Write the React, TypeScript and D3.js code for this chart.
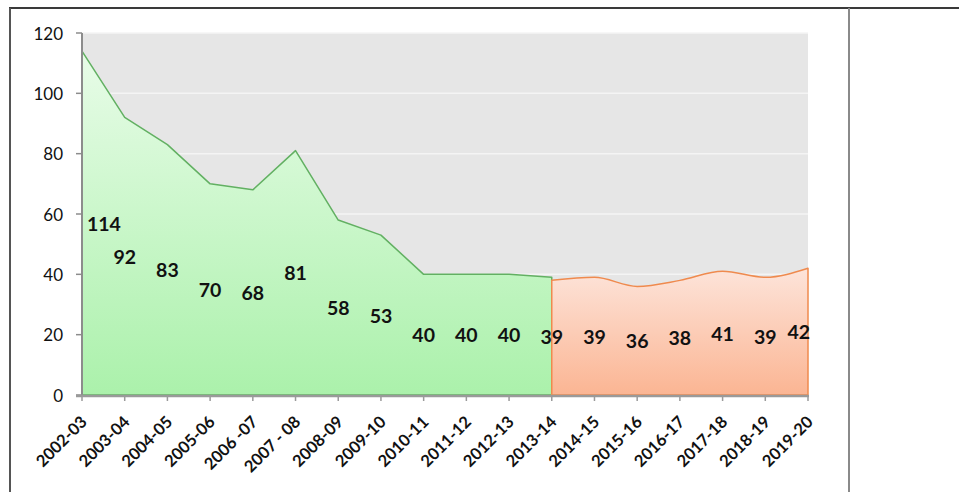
import React from "react";
import * as d3 from "d3";

const categories = [
  "2002-03", "2003-04", "2004-05", "2005-06", "2006 -07", "2007 - 08",
  "2008-09", "2009-10", "2010-11", "2011-12", "2012-13", "2013-14",
  "2014-15", "2015-16", "2016-17", "2017-18", "2018-19", "2019-20",
];
// green series: 2002-03 .. 2013-14
const greenValues = [114, 92, 83, 70, 68, 81, 58, 53, 40, 40, 40, 39];
// orange series: 2013-14 .. 2019-20
const orangeValues = [38, 39, 36, 38, 41, 39, 42];
const orangeStart = 11;
const yTicks = [0, 20, 40, 60, 80, 100, 120];

const W = 959;
const H = 492;
const L = 82, R = 808, T = 33, B = 395;
const FONT = "Lato, 'Open Sans', sans-serif";

export default function App() {
  const x = d3.scalePoint<string>().domain(categories).range([L, R]);
  const y = d3.scaleLinear().domain([0, 120]).range([B, T]);

  const green = greenValues.map((v, i) => ({ c: categories[i], v }));
  const orange = orangeValues.map((v, i) => ({ c: categories[orangeStart + i], v }));

  const areaG = d3.area<{ c: string; v: number }>()
    .x((d) => x(d.c)!)
    .y0(B)
    .y1((d) => y(d.v));
  const areaO = d3.area<{ c: string; v: number }>()
    .x((d) => x(d.c)!)
    .y0(B)
    .y1((d) => y(d.v))
    .curve(d3.curveMonotoneX);

  const labelW = (s: string) => s.length * 0.58 * 19.5;
  const labelX = (cx: number, s: string) => {
    const w = labelW(s);
    return Math.min(Math.max(cx, L + 5 + w / 2), R + 2 - w / 2);
  };

  const labels = [
    ...green.map((d) => ({ c: d.c, v: d.v })),
    ...orange.slice(1).map((d) => ({ c: d.c, v: d.v })),
  ];

  return (
    <svg width={W} height={H} style={{ position: "absolute", left: 0, top: 0 }}>
      <defs>
        <linearGradient id="gG" x1="0" y1="0" x2="0" y2="1">
          <stop offset="0" stopColor="#e8fce8" />
          <stop offset="1" stopColor="#abf1ab" />
        </linearGradient>
        <linearGradient id="gO" x1="0" y1="0" x2="0" y2="1">
          <stop offset="0" stopColor="#fde4da" />
          <stop offset="1" stopColor="#fbb593" />
        </linearGradient>
      </defs>
      <rect x={0} y={0} width={W} height={H} fill="#fff" />
      {/* frame */}
      <line x1={9} x2={W} y1={8} y2={8} stroke="#3a3a3a" strokeWidth={2} />
      <line x1={10} x2={10} y1={8} y2={H} stroke="#555" strokeWidth={2} />
      <line x1={849} x2={849} y1={8} y2={H} stroke="#8a8a8a" strokeWidth={2} />

      {/* plot background */}
      <rect x={L} y={T} width={R - L} height={B - T} fill="#e6e6e6" />
      {yTicks.slice(1).map((t) => (
        <line key={t} x1={L} x2={R} y1={y(t)} y2={y(t)} stroke="#f4f4f4" strokeWidth={1.5} />
      ))}

      {/* areas */}
      <path d={areaG(green)!} fill="url(#gG)" stroke="#62b062" strokeWidth={1.5} strokeLinejoin="round" />
      <path d={areaO(orange)!} fill="url(#gO)" stroke="#ef8a4e" strokeWidth={1.5} strokeLinejoin="round" />

      {/* axes */}
      <line x1={L} x2={L} y1={T} y2={B + 1} stroke="#8c8c8c" strokeWidth={2} />
      {yTicks.map((t) => (
        <g key={t}>
          <line x1={L - 6} x2={L} y1={y(t)} y2={y(t)} stroke="#8c8c8c" strokeWidth={1.5} />
          <text x={63} y={y(t)} textAnchor="end" dominantBaseline="central"
            fontFamily={FONT} fontSize={17} fill="#111">{t}</text>
        </g>
      ))}
      <line x1={L - 6} x2={R + 1} y1={B + 1} y2={B + 1} stroke="#9a9a9a" strokeWidth={2.5} />
      {categories.map((c) => (
        <g key={c}>
          <line x1={x(c)!} x2={x(c)!} y1={B} y2={B + 6} stroke="#9a9a9a" strokeWidth={1.5} />
          <text transform={`translate(${x(c)! + 6},${B + 28}) rotate(-45)`} textAnchor="end"
            fontFamily={FONT} fontWeight={700} fontSize={16.5} fill="#111">{c}</text>
        </g>
      ))}

      {/* data labels */}
      {labels.map((d, i) => {
        const s = String(d.v);
        return (
          <text key={i} x={labelX(x(d.c)!, s)} y={y(d.v / 2)} textAnchor="middle"
            dominantBaseline="central" fontFamily={FONT} fontWeight={700} fontSize={19.5} fill="#111">
            {s}
          </text>
        );
      })}
    </svg>
  );
}
